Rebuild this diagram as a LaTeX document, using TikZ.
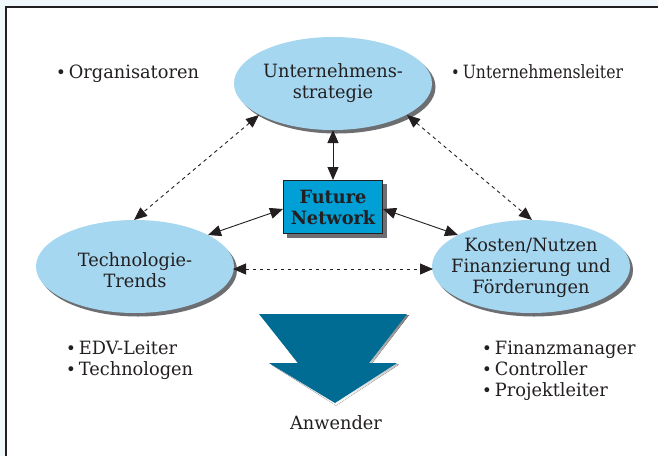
\documentclass[tikz,border=0pt]{standalone}
\usepackage{fontspec}
\setmainfont{DejaVu Serif}[FakeStretch=0.97]
\newfontfamily\narrowslab{DejaVu Serif}[FakeStretch=0.855]
\usetikzlibrary{arrows.meta,shapes.geometric}
\definecolor{ellblue}{HTML}{A5D7F0}
\definecolor{boxblue}{HTML}{009FD6}
\definecolor{teal}{HTML}{006C93}
\definecolor{shade}{HTML}{6D6E71}
\definecolor{ink}{HTML}{231F20}
\definecolor{pagetint}{HTML}{F1F8FC}
\newcommand{\slabsize}{\fontsize{18.3}{21}\selectfont}
\newcommand{\bul}{{\fontsize{17}{17}\selectfont•}\hspace{3pt}}
\tikzset{
  x=1pt,y=-1pt,
  goal/.style={ellipse,fill=ellblue,minimum width=198pt,minimum height=93pt,inner sep=0pt},
  goaltext/.style={font=\slabsize,text=ink,align=center,inner sep=0pt},
  drop/.style={fill=shade},
  twoway/.style={ink,line width=0.9pt,{Triangle[length=13pt,width=11pt]}-{Triangle[length=13pt,width=11pt]}},
  dotway/.style={twoway,dash pattern=on 3.5pt off 3.5pt},
  plain/.style={font=\slabsize,text=ink,align=left,inner sep=0pt},
}
\begin{document}
\begin{tikzpicture}
\useasboundingbox (0,0) rectangle (658,456);
\fill[pagetint] (0,0) rectangle (658,456);
\fill[white] (6,7) rectangle (658,456);
\draw[ink,line width=1.5pt] (6,456) -- (6,7) -- (658,7);
% shadows
\fill[drop] (336.5,87) ellipse [x radius=99,y radius=46.5];
\fill[drop] (138,270) ellipse [x radius=99,y radius=46.5];
\fill[drop] (534,270) ellipse [x radius=99,y radius=46.5];
% ellipses
\node[goal] (top) at (333,83.5) {};
\node[goal] (left) at (135,266.5) {};
\node[goal] (right) at (531,266.5) {};
\node[goaltext] (toptext) at (333,83) {Unternehmens-\\strategie};
\node[goaltext] (lefttext) at (135,270.5) {Technologie-\\Trends};
\node[goaltext] (righttext) at (531,268) {Kosten/Nutzen\\Finanzierung und\\Förderungen};
% box
\fill[drop] (287,184) rectangle (387,238);
\node[draw=ink,line width=1pt,fill=boxblue,minimum width=99pt,minimum height=53pt,inner sep=0pt,align=center,
  font=\bfseries\slabsize,text=ink] (box) at (333,207) {Future\\Network};
% block arrow
\fill[shade] (261,315) -- (409,315) -- (371,364.5) -- (399,364.5) -- (336,405.5) -- (271,364.5) -- (299,364.5) -- cycle;
\fill[teal] (259,314) -- (407,314) -- (369,363) -- (397,363) -- (335,403) -- (269,363) -- (298,363) -- cycle;
% connectors
\coordinate (tb) at (333,130);
\coordinate (tl) at (259,115); \coordinate (tr) at (407,115);
\coordinate (lt) at (134,220); \coordinate (rt) at (532,220);
\coordinate (lr) at (233,269); \coordinate (rl) at (433,269);
\coordinate (lb) at (208,235); \coordinate (rb) at (458,235);
\draw[twoway] (tb) -- (box.north);
\draw[twoway] ([yshift=-2pt]box.west) -- (lb);
\draw[twoway] ([yshift=-2pt]box.east) -- (rb);
\draw[dotway] (tl) -- (lt);
\draw[dotway] (tr) -- (rt);
\draw[dotway] (lr) -- (rl);
% labels
\node[plain,anchor=base west] (org) at (56,78) {\bul Organisatoren};
\node[plain,anchor=base west,font=\narrowslab\slabsize] (ul) at (451,78) {\bul Unternehmensleiter};
\node[plain,anchor=north west] (edv) at (66,341) {\bul EDV-Leiter\\\bul Technologen};
\node[plain,anchor=north west] (fin) at (482,341) {\bul Finanzmanager\\\bul Controller\\\bul Projektleiter};
\node[plain,anchor=base] (anw) at (336,429) {Anwender};
\end{tikzpicture}
\end{document}
